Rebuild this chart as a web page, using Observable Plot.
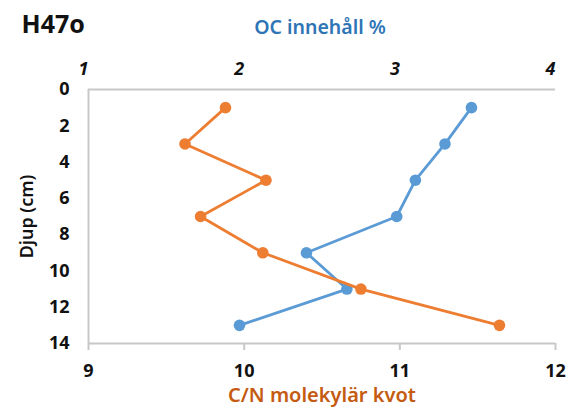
<!DOCTYPE html>
<html>
<head>
<meta charset="utf-8">
<script src="https://cdn.jsdelivr.net/npm/d3@7"></script>
<script src="https://cdn.jsdelivr.net/npm/@observablehq/plot@0.6"></script>
<style>
body { margin: 0; background: #fff; }
</style>
</head>
<body>
<div id="chart"></div>
<script>
const depths = [1, 3, 5, 7, 9, 11, 13];
const ocValues = [3.46, 3.29, 3.10, 2.98, 2.40, 2.66, 1.97];
const cnValues = [9.88, 9.62, 10.14, 9.72, 10.12, 10.75, 11.64];
const cnTicks = [9, 10, 11, 12];
const ocTicks = [1, 2, 3, 4];
const depthTicks = [0, 2, 4, 6, 8, 10, 12, 14];

const title = "H47o";
const ocLabel = "OC innehåll %";
const cnLabel = "C/N molekylär kvot";
const yLabel = "Djup (cm)";

// map OC (1..4) onto the shared C/N scale (9..12) for the secondary top axis
const ocToCn = v => v + 8;

const ocData = depths.map((d, i) => ({depth: d, x: ocToCn(ocValues[i])}));
const cnData = depths.map((d, i) => ({depth: d, x: cnValues[i]}));

const font = "'Noto Sans', 'Open Sans', sans-serif";
const blue = "#5B9BD5", orange = "#ED7D31";
const axisGrey = "#c8c8c8";

const chart = Plot.plot({
  width: 578,
  height: 409,
  marginLeft: 88,
  marginRight: 23,
  marginTop: 89,
  marginBottom: 66,
  style: {fontFamily: font, background: "#fff"},
  x: {domain: [9, 12]},
  y: {domain: [0, 14], reverse: true},
  marks: [
    // axis lines
    Plot.ruleX([9], {stroke: axisGrey, strokeWidth: 2, y1: 0, y2: 14}),
    Plot.ruleY([0], {stroke: axisGrey, strokeWidth: 2}),
    Plot.ruleY([14], {stroke: axisGrey, strokeWidth: 2}),
    // bottom axis (C/N)
    Plot.axisX(cnTicks, {anchor: "bottom", tickSize: 7, stroke: axisGrey, strokeWidth: 2, tickPadding: 14,
      tickFormat: d3.format("d"), fontSize: 18, fontWeight: "bold", fill: "#111", label: null}),
    // top axis (OC) drawn through the same x scale
    Plot.axisX(ocTicks.map(ocToCn), {anchor: "top", tickSize: 0, tickPadding: 15, dx: -5,
      tickFormat: d => String(d - 8), fontSize: 18, fontWeight: "bold", fontStyle: "italic", fill: "#111", label: null}),
    // left axis (depth)
    Plot.axisY(depthTicks, {anchor: "left", tickSize: 0, tickPadding: 19,
      fontSize: 18, fontWeight: "bold", fill: "#111", label: null}),
    // series
    Plot.line(ocData, {x: "x", y: "depth", stroke: blue, strokeWidth: 2.8}),
    Plot.dot(ocData, {x: "x", y: "depth", fill: blue, r: 5.8, stroke: "none"}),
    Plot.line(cnData, {x: "x", y: "depth", stroke: orange, strokeWidth: 2.8}),
    Plot.dot(cnData, {x: "x", y: "depth", fill: orange, r: 5.8, stroke: "none"}),
    // titles
    Plot.text([title], {frameAnchor: "top-left", dx: -67, dy: -65, fontSize: 25, fontWeight: "bold", fill: "#111", textAnchor: "start", lineAnchor: "middle"}),
    Plot.text([ocLabel], {frameAnchor: "top", dx: -2, dy: -62, fontSize: 19.5, fill: "#2E75B6", fontWeight: "600", lineAnchor: "middle"}),
    Plot.text([cnLabel], {frameAnchor: "bottom", dx: 0, dy: 52, fontSize: 20, fill: "#C55A11", fontWeight: "600", lineAnchor: "middle"}),
    Plot.text([yLabel], {frameAnchor: "left", dx: -61, rotate: -90, fontSize: 18, fill: "#111", fontWeight: "600", textAnchor: "middle", lineAnchor: "middle"})
  ]
});
document.getElementById("chart").appendChild(chart);
</script>
</body>
</html>
